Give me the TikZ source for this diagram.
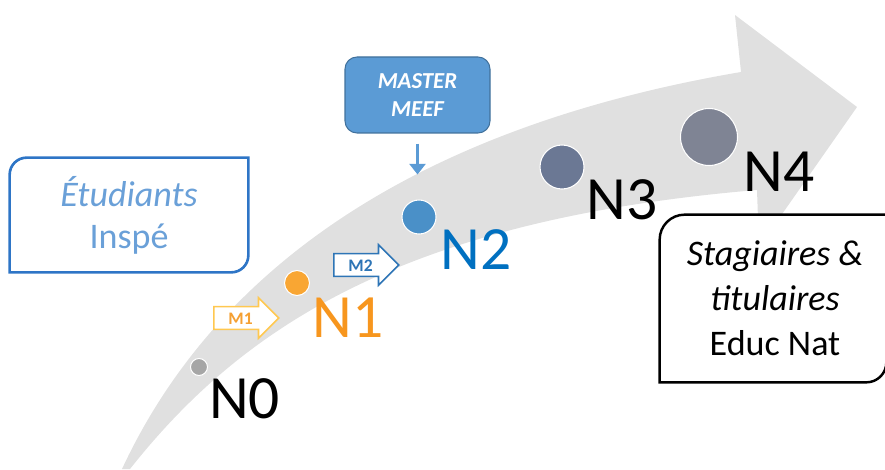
\documentclass[tikz,border=0pt]{standalone}
\usepackage{fontspec}
\setmainfont{Carlito}
\usetikzlibrary{shapes.arrows,arrows.meta}

\definecolor{bandgray}{RGB}{224,224,224}
\definecolor{dotgray}{RGB}{166,166,166}
\definecolor{niv1}{RGB}{247,150,30}
\definecolor{niv1dot}{RGB}{249,166,51}
\definecolor{niv2}{RGB}{0,112,192}
\definecolor{niv2dot}{RGB}{74,144,200}
\definecolor{niv3dot}{RGB}{107,120,148}
\definecolor{niv4dot}{RGB}{127,132,148}
\definecolor{inspeblue}{RGB}{46,117,198}
\definecolor{inspetext}{RGB}{106,160,216}
\definecolor{meeffill}{RGB}{91,155,213}
\definecolor{meefdraw}{RGB}{65,113,156}
\definecolor{mone}{RGB}{255,200,80}
\definecolor{monetext}{RGB}{245,160,50}
\definecolor{mtwo}{RGB}{46,117,182}

\begin{document}
\begin{tikzpicture}[
  niveau/.style={circle, fill=#1, draw=white, line width=0.6pt, inner sep=0pt},
  nivtext/.style={inner sep=0pt, font=\fontsize{35}{40}\selectfont},
  parcours/.style={single arrow, draw=#1, fill=white, line width=0.9pt,
    single arrow head extend=0.18cm, minimum height=1.3cm, anchor=tail,
    inner ysep=2.5pt, text height=7pt, text depth=0pt,
    font=\fontsize{10}{10}\selectfont\bfseries},
]
  \useasboundingbox (0,0) rectangle (17.7,9.38);

  % Big curved arrow
  \fill[bandgray] (2.44,0) .. controls (4.2,3.78) and (8.0,6.78) .. (14.82,7.94)
    -- (14.7,9.08) -- (17.14,7.24) -- (15.18,4.44) -- (15.14,5.58)
    .. controls (8.0,4.98) and (4.8,2.78) .. (2.6,0) -- cycle;

  % Etudiants box
  \node[align=center, text=inspetext, font=\fontsize{20.5}{24}\selectfont,
    minimum width=4.76cm, minimum height=2.28cm, inner sep=0pt] (etu) at (2.58,5.08)
    {\textit{Étudiants}\\Inspé};
  \draw[inspeblue, line width=1.5pt] (etu.south west) -- ([yshift=-0.34cm]etu.north west)
    arc[start angle=180, end angle=90, radius=0.34cm] -- (etu.north east)
    -- ([yshift=0.34cm]etu.south east) arc[start angle=0, end angle=-90, radius=0.34cm] -- cycle;

  % Stagiaires box
  \node[minimum width=4.52cm, minimum height=3.34cm, inner sep=0pt] (stag) at (15.46,3.41) {};
  \fill[white] (stag.south west) -- ([yshift=-0.5cm]stag.north west)
    arc[start angle=180, end angle=90, radius=0.5cm] -- (stag.north east)
    -- ([yshift=0.4cm]stag.south east) arc[start angle=0, end angle=-90, radius=0.4cm] -- cycle;
  \draw[black, line width=1.4pt] (stag.south west) -- ([yshift=-0.5cm]stag.north west)
    arc[start angle=180, end angle=90, radius=0.5cm] -- (stag.north east)
    -- ([yshift=0.4cm]stag.south east) arc[start angle=0, end angle=-90, radius=0.4cm] -- cycle;
  \node[align=center, font=\fontsize{20.5}{25.5}\selectfont, inner sep=0pt] (stagtxt) at (15.5,3.41)
    {\textit{Stagiaires \&}\\\textit{titulaires}\\Educ Nat};

  % Master MEEF
  \node[rounded corners=0.24cm, fill=meeffill, draw=meefdraw, line width=0.6pt,
    minimum width=2.9cm, minimum height=1.52cm, text=white, align=center,
    font=\fontsize{13}{16.4}\selectfont\bfseries\itshape] (meef) at (8.35,7.48) {MASTER\\MEEF};

  % Levels
  \node[niveau=dotgray, minimum size=0.34cm] (n0) at (3.98,2.04) {};
  \node[niveau=niv1dot, minimum size=0.5cm] (n1) at (5.94,3.72) {};
  \node[niveau=niv2dot, minimum size=0.68cm] (n2) at (8.38,5.04) {};
  \node[niveau=niv3dot, minimum size=0.88cm] (n3) at (11.24,6.04) {};
  \node[niveau=niv4dot, minimum size=1.14cm] (n4) at (14.18,6.64) {};

  \node[nivtext] (t0) at (4.89,1.4) {N0};
  \node[nivtext, text=niv1] (t1) at (6.96,3.02) {N1};
  \node[nivtext, text=niv2] (t2) at (9.52,4.38) {N2};
  \node[nivtext] (t3) at (12.44,5.38) {N3};
  \node[nivtext] (t4) at (15.58,5.94) {N4};

  % Master years
  \node[parcours=mone, text=monetext] (m1) at (4.26,3.02) {M1};
  \node[parcours=mtwo, text=mtwo] (m2) at (6.66,4.08) {M2};

  \draw[-{Triangle[length=6pt,width=9pt]}, line width=1.5pt, meeffill,
    shorten <=0.2cm, shorten >=0.5cm] (meef.south) -- (meef.south |- n2.north);

\end{tikzpicture}
\end{document}
